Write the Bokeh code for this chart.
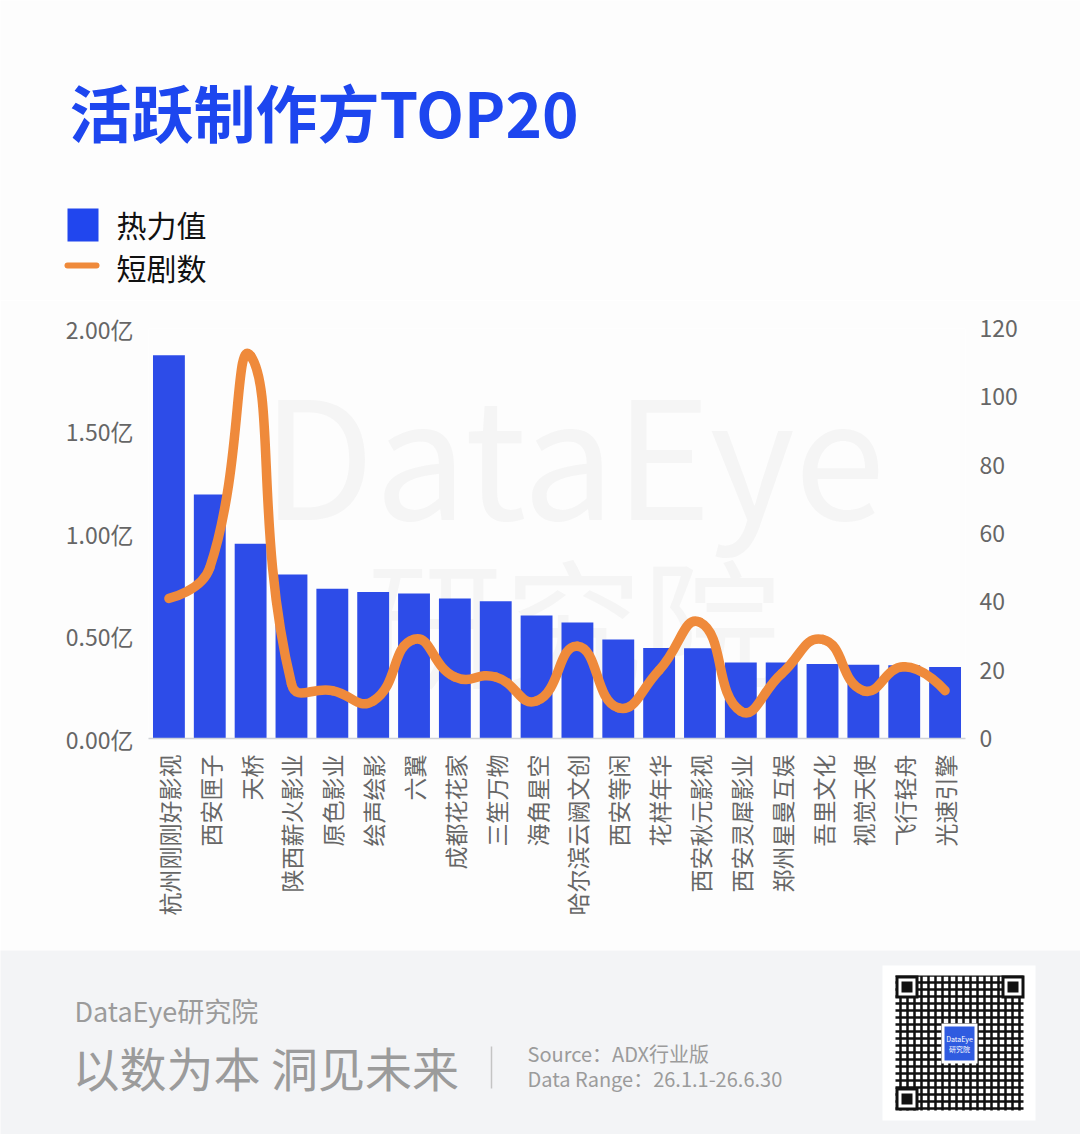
import math
from bokeh.plotting import figure
from bokeh.models import Range1d, LinearAxis, FixedTicker, PrintfTickFormatter
from bokeh.embed import file_html
from bokeh.resources import INLINE
from bokeh.core.properties import value

# ---------------- data ----------------
categories = ["杭州刚刚好影视", "西安匣子", "天桥", "陕西薪火影业", "原色影业", "绘声绘影", "六翼",
              "成都花花家", "三笙万物", "海角星空", "哈尔滨云阙文创", "西安等闲", "花样年华",
              "西安秋元影视", "西安灵犀影业", "郑州星曼互娱", "吾里文化", "视觉天使", "飞行轻舟", "光速引擎"]
heat = [1.87, 1.19, 0.95, 0.80, 0.73, 0.715, 0.707, 0.683, 0.67, 0.60,
        0.566, 0.483, 0.441, 0.44, 0.371, 0.371, 0.363, 0.36, 0.357, 0.349]   # 亿
dramas = [41, 50, 112, 16, 14, 11, 29, 18, 18, 11, 27, 9, 20, 34, 8, 19, 29, 14, 21, 14]
left_ticks = [0, 0.5, 1.0, 1.5, 2.0]
right_ticks = [0, 20, 40, 60, 80, 100, 120]

TITLE = "活跃制作方TOP20"
LEG_BAR = "热力值"
LEG_LINE = "短剧数"
FOOT1 = "DataEye研究院"
FOOT2 = "以数为本 洞见未来"
SRC1 = "Source：ADX行业版"
SRC2 = "Data Range：26.1.1-26.6.30"

FONT = value("Noto Sans CJK SC")
FONTN = "Noto Sans CJK SC"
BG = "#fdfdfd"
FOOT_BG = "#f3f4f6"
BAR = "#2d4ce8"
ORANGE = "#ef8a3b"
BLUE_T = "#1d46ef"
AX_TXT = "#666666"
GREY = "#9b9b9b"
WM = "#f5f5f5"

W = 1080
HEAD_H, CHART_H, FOOT_H = 300, 650, 184
FL, FR, FT, FB = 148, 965, 328, 738     # chart frame in page pixels


def blank(height, y0):
    f = figure(width=W, height=height, x_range=Range1d(0, W), y_range=Range1d(y0 + height, y0),
               x_axis_location=None, y_axis_location=None, toolbar_location=None,
               output_backend="svg", min_border=0, outline_line_color=None)
    f.grid.visible = False
    return f


# ---------------- header ----------------
head = blank(HEAD_H, 0)
head.background_fill_color = BG
head.border_fill_color = BG
head.text(x=[69], y=[110], text=[TITLE], text_font=FONT, text_font_style="bold",
          text_font_size="62px", text_color=BLUE_T, text_baseline="middle")
head.quad(left=[67], right=[98], top=[208], bottom=[241], fill_color="#2146ee", line_color=None)
head.text(x=[116], y=[223], text=[LEG_BAR], text_font=FONT, text_font_size="30px",
          text_color="#111111", text_baseline="middle")
head.line(x=[67, 96], y=[265, 265], line_color=ORANGE, line_width=6, line_cap="round")
head.text(x=[116], y=[266], text=[LEG_LINE], text_font=FONT, text_font_size="30px",
          text_color="#111111", text_baseline="middle")

# ---------------- chart ----------------
n = len(categories)
SX = (FR - FL) / n
xpos = [i + 0.5 for i in range(n)]
p = figure(width=W, height=CHART_H, x_range=Range1d(0, n), y_range=Range1d(0, left_ticks[-1]),
           toolbar_location=None, output_backend="svg",
           min_border_left=FL, min_border_right=W - FR, min_border_top=FT - HEAD_H,
           min_border_bottom=HEAD_H + CHART_H - FB,
           outline_line_color=None, background_fill_color=BG, border_fill_color=BG)
p.grid.visible = False
p.extra_y_ranges = {"right": Range1d(0, right_ticks[-1])}

SY = (FB - FT) / left_ticks[-1]
# faint watermark
p.text(x=[(573 - FL) / SX], y=[(FB - 448) / SY], text=["DataEye"], text_font=FONT,
       text_font_size="164px", text_color=WM, text_align="center", text_baseline="middle")
p.text(x=[(573 - FL) / SX], y=[(FB - 616) / SY], text=["研究院"], text_font=FONT,
       text_font_size="138px", text_color=WM, text_align="center", text_baseline="middle")

p.vbar(x=xpos, top=heat, width=0.78, bottom=0, fill_color=BAR, line_color=None)

# smooth line (cubic bezier segments through the data points)
YPX = (FB - FT) / right_ticks[-1]
sm = 0.5
px = [x * SX for x in xpos]
py = [y * YPX for y in dramas]
cin = [(px[i], py[i]) for i in range(n)]
cout = [(px[i], py[i]) for i in range(n)]
for i in range(1, n - 1):
    vx = px[i + 1] - px[i - 1]
    vy = py[i + 1] - py[i - 1]
    l0 = math.hypot(px[i] - px[i - 1], py[i] - py[i - 1])
    l1 = math.hypot(px[i + 1] - px[i], py[i + 1] - py[i])
    r = l1 / (l0 + l1)
    cin[i] = (px[i] - vx * sm * (1 - r), py[i] - vy * sm * (1 - r))
    cout[i] = (px[i] + vx * sm * r, py[i] + vy * sm * r)
p.bezier(x0=xpos[:-1], y0=dramas[:-1], x1=xpos[1:], y1=dramas[1:],
         cx0=[c[0] / SX for c in cout[:-1]], cy0=[c[1] / YPX for c in cout[:-1]],
         cx1=[c[0] / SX for c in cin[1:]], cy1=[c[1] / YPX for c in cin[1:]],
         y_range_name="right", line_color=ORANGE, line_width=9.5, line_cap="round")

# axes
xa = p.xaxis[0]
xa.ticker = FixedTicker(ticks=xpos)
xa.major_label_overrides = {x: c for x, c in zip(xpos, categories)}
xa.major_label_orientation = math.pi / 2
xa.major_label_text_font = FONTN
xa.major_label_text_font_size = "23px"
xa.major_label_text_color = AX_TXT
xa.major_label_standoff = 10
xa.axis_line_color = "#cfd2d8"
xa.axis_line_width = 1.5
xa.major_tick_line_color = None
xa.minor_tick_line_color = None

ya = p.yaxis[0]
ya.ticker = FixedTicker(ticks=left_ticks)
ya.formatter = PrintfTickFormatter(format="%.2f亿")
ya.major_label_text_font = FONTN
ya.major_label_text_font_size = "23px"
ya.major_label_text_color = AX_TXT
ya.major_label_standoff = 9
ya.axis_line_color = None
ya.major_tick_line_color = None
ya.minor_tick_line_color = None

ra = LinearAxis(y_range_name="right", ticker=FixedTicker(ticks=right_ticks))
ra.major_label_text_font = FONTN
ra.major_label_text_font_size = "23px"
ra.major_label_text_color = AX_TXT
ra.major_label_standoff = 8
ra.axis_line_color = None
ra.major_tick_line_color = None
ra.minor_tick_line_color = None
p.add_layout(ra, "right")

# ---------------- footer ----------------
foot = blank(FOOT_H, HEAD_H + CHART_H)
foot.background_fill_color = FOOT_BG
foot.border_fill_color = FOOT_BG
foot.text(x=[74], y=[1010], text=[FOOT1], text_font=FONT, text_font_size="27px",
          text_color=GREY, text_baseline="middle")
foot.text(x=[72], y=[1066], text=[FOOT2], text_font=FONT, text_font_size="47px",
          text_color=GREY, text_baseline="middle")
foot.segment(x0=[491], y0=[1046], x1=[491], y1=[1088], line_color="#c4c4c4", line_width=1.5)
foot.text(x=[527], y=[1053], text=[SRC1], text_font=FONT, text_font_size="20px",
          text_color=GREY, text_baseline="middle")
foot.text(x=[527], y=[1078], text=[SRC2], text_font=FONT, text_font_size="20px",
          text_color=GREY, text_baseline="middle")

# QR code placeholder
foot.quad(left=[882], right=[1035], top=[965], bottom=[1120], fill_color="white", line_color=None)
foot.quad(left=[895], right=[1023], top=[975], bottom=[1110], fill_color="white", line_color=None,
          hatch_pattern="+", hatch_color="#111111", hatch_scale=7, hatch_weight=2.5)
for (fx, fy) in [(895, 975), (1001, 975), (895, 1087)]:
    foot.quad(left=[fx], right=[fx + 23], top=[fy], bottom=[fy + 23], fill_color="#111111", line_color=None)
    foot.quad(left=[fx + 3], right=[fx + 20], top=[fy + 3], bottom=[fy + 20], fill_color="white", line_color=None)
    foot.quad(left=[fx + 6], right=[fx + 17], top=[fy + 6], bottom=[fy + 17], fill_color="#111111", line_color=None)
foot.quad(left=[941], right=[977], top=[1023], bottom=[1063], fill_color="white", line_color=None)
foot.quad(left=[944], right=[974], top=[1026], bottom=[1060], fill_color="#2f5be0", line_color=None)
foot.text(x=[959], y=[1038], text=["DataEye"], text_font=FONT, text_font_size="7px",
          text_color="white", text_align="center", text_baseline="middle")
foot.text(x=[959], y=[1048], text=["研究院"], text_font=FONT, text_font_size="7px",
          text_color="white", text_align="center", text_baseline="middle")

open("out.html", "w").write(file_html([head, p, foot], INLINE))
